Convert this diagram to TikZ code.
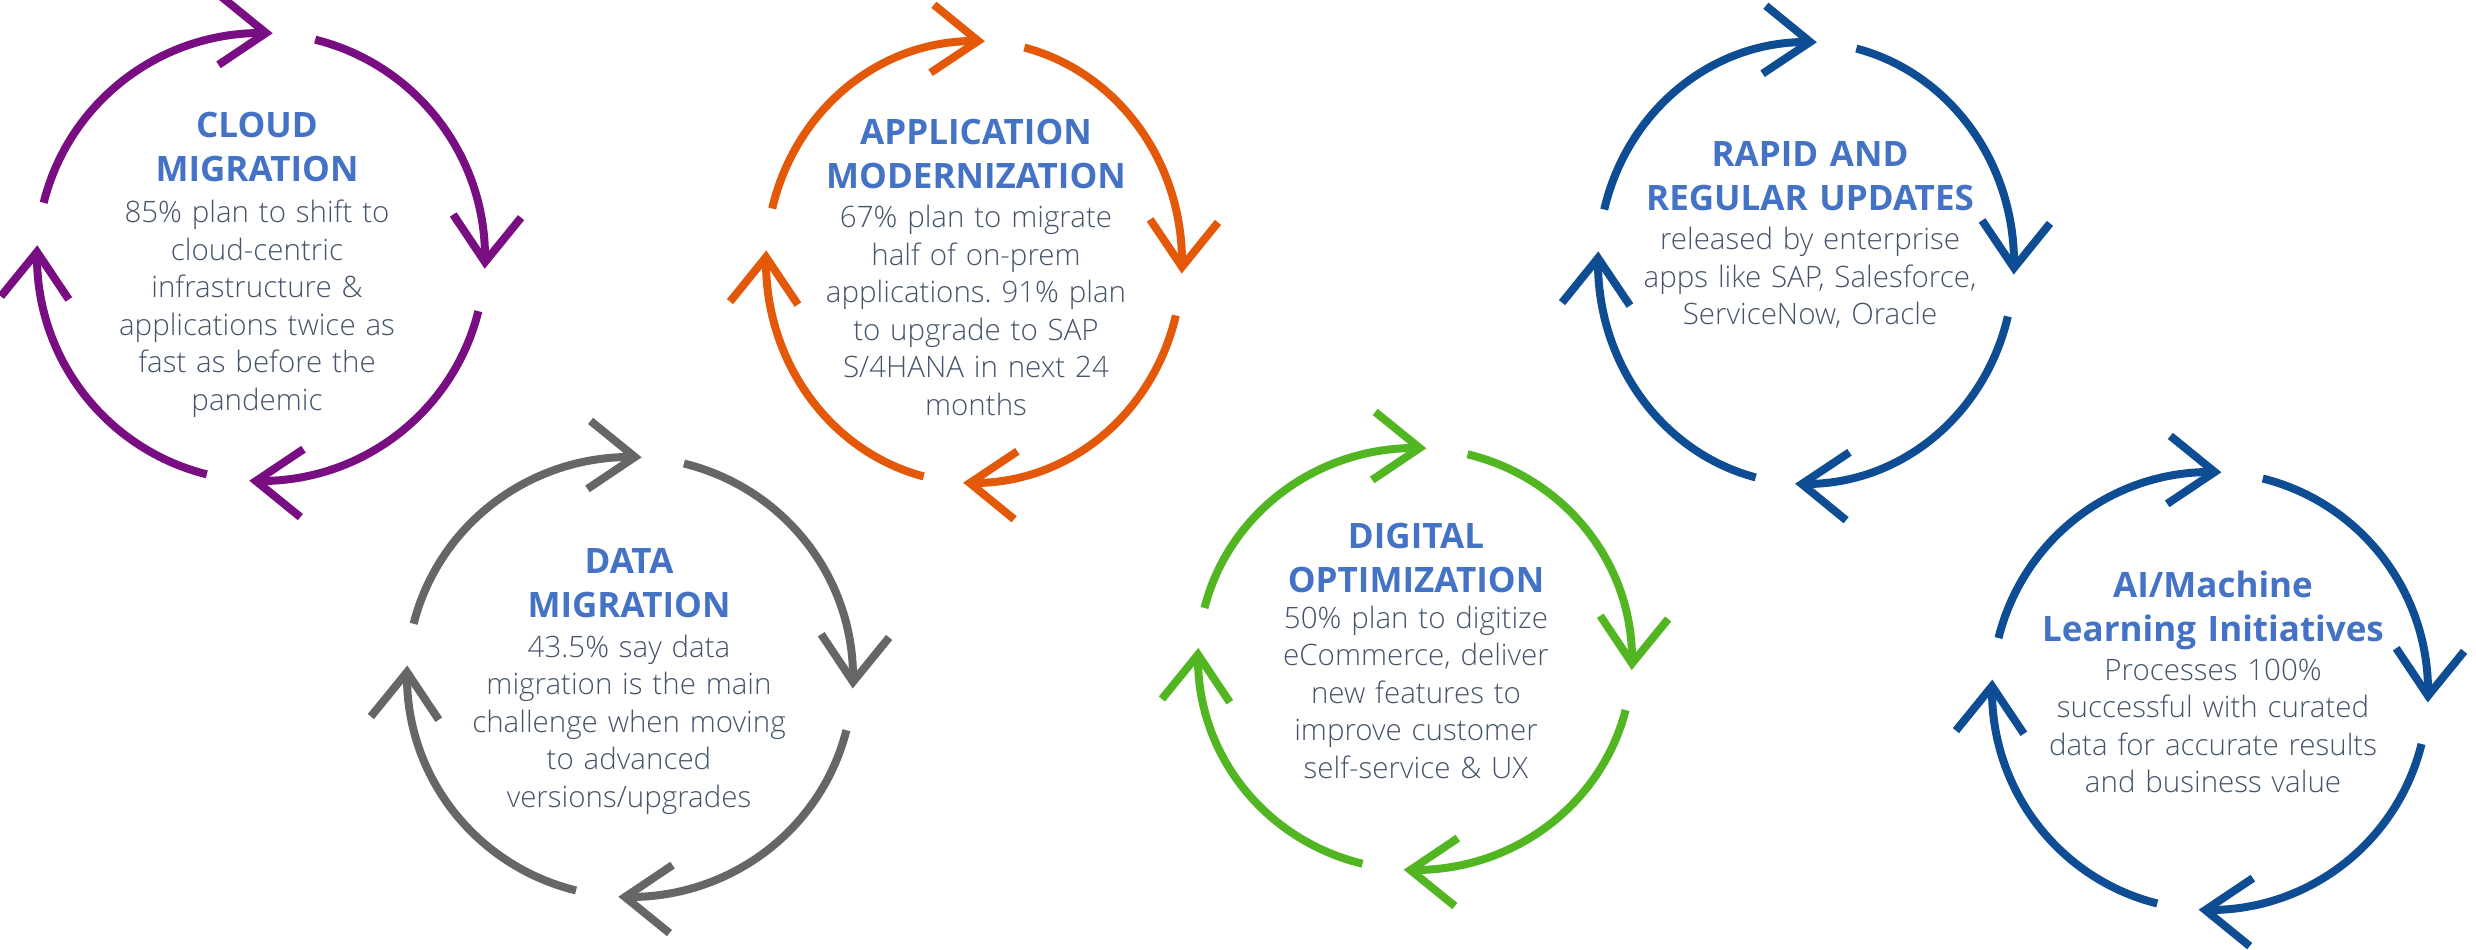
\documentclass[tikz,border=0pt]{standalone}
\usepackage{fontspec}
\setmainfont{Open Sans}
\IfFontExistsTF{Open Sans Light}{\newfontfamily\lightfont{Open Sans Light}}{\newfontfamily\lightfont{Open Sans}}
\usepackage{tikz}
\usetikzlibrary{arrows.meta,bending}
\definecolor{CloudPurple}{RGB}{120,14,130}
\definecolor{AppOrange}{RGB}{228,88,10}
\definecolor{DataGray}{RGB}{102,102,102}
\definecolor{DigiGreen}{RGB}{82,182,34}
\definecolor{DeepBlue}{RGB}{14,77,147}
\definecolor{TitleBlue}{RGB}{68,114,196}
\definecolor{TextGray}{RGB}{68,84,106}
\frenchspacing

\begin{document}
\begin{tikzpicture}[x=0.5pt, y=0.5pt, line width=4pt,
      -{Straight Barb[length=23pt,width=34pt]},
      every node/.append style={inner sep=0pt,text width=230pt,align=center,anchor=base}]
	  \tikzstyle{head} = [font=\bfseries\fontsize{17.5}{22}\selectfont,color=TitleBlue]
	  \tikzstyle{blurb} = [font=\lightfont\fontsize{14.75}{18.75}\selectfont,color=TextGray]
	  \useasboundingbox (0,0) rectangle (2476,949);
	  \coordinate (c_1) at (261,692);
	  \coordinate (c_2) at (974,687);
	  \coordinate (c_3) at (1806,686);
	  \coordinate (c_4) at (630,272);
	  \coordinate (c_5) at (1415,290);
	  \coordinate (c_6) at (2210,258);
	  \foreach \a in {90,0,-90,180}
	    \draw[color=CloudPurple] ([shift={(\a+76:224 and 224)}]c_1) arc[start angle=\a+76,end angle=\a-3,x radius=224,y radius=224];
	  \foreach \a in {90,0,-90,180}
	    \draw[color=AppOrange] ([shift={(\a+76:208 and 221)}]c_2) arc[start angle=\a+76,end angle=\a-3,x radius=208,y radius=221];
	  \foreach \a in {90,0,-90,180}
	    \draw[color=DeepBlue] ([shift={(\a+76:208 and 221)}]c_3) arc[start angle=\a+76,end angle=\a-3,x radius=208,y radius=221];
	  \foreach \a in {90,0,-90,180}
	    \draw[color=DataGray] ([shift={(\a+76:223 and 220)}]c_4) arc[start angle=\a+76,end angle=\a-3,x radius=223,y radius=220];
	  \foreach \a in {90,0,-90,180}
	    \draw[color=DigiGreen] ([shift={(\a+76:217 and 211)}]c_5) arc[start angle=\a+76,end angle=\a-3,x radius=217,y radius=211];
	  \foreach \a in {90,0,-90,180}
	    \draw[color=DeepBlue] ([shift={(\a+76:218 and 219)}]c_6) arc[start angle=\a+76,end angle=\a-3,x radius=218,y radius=219];
	  % titles
	  \node (t_1) [head] at (257,811) {CLOUD\\MIGRATION};
	  \node (t_2) [head] at (976,804) {APPLICATION\\MODERNIZATION};
	  \node (t_3) [head] at (1810,782) {RAPID AND\\REGULAR UPDATES};
	  \node (t_4) [head] at (629,376) {DATA\\MIGRATION};
	  \node (t_5) [head] at (1416,401) {DIGITAL\\OPTIMIZATION};
	  \node (t_6) [head] at (2213,352) {AI/Machine\\Learning Initiatives};
	  % body texts
	  \node (b_1) [blurb] at (257,726) {85\% plan to shift to\\cloud-centric\\infrastructure \&\\applications twice as\\fast as before the\\pandemic};
	  \node (b_2) [blurb] at (976,721) {67\% plan to migrate\\half of on-prem\\applications. 91\% plan\\to upgrade to SAP\\S/4HANA in next 24\\months};
	  \node (b_3) [blurb] at (1810,699) {released by enterprise\\apps like SAP, Salesforce,\\ServiceNow, Oracle};
	  \node (b_4) [blurb] at (629,292) {43.5\% say data\\migration is the main\\challenge when moving\\to advanced\\versions/upgrades};
	  \node (b_5) [blurb] at (1416,321) {50\% plan to digitize\\eCommerce, deliver\\new features to\\improve customer\\self-service \& UX};
	  \node (b_6) [blurb] at (2213,269) {Processes 100\%\\successful with curated\\data for accurate results\\and business value};
	\end{tikzpicture}
\end{document}
